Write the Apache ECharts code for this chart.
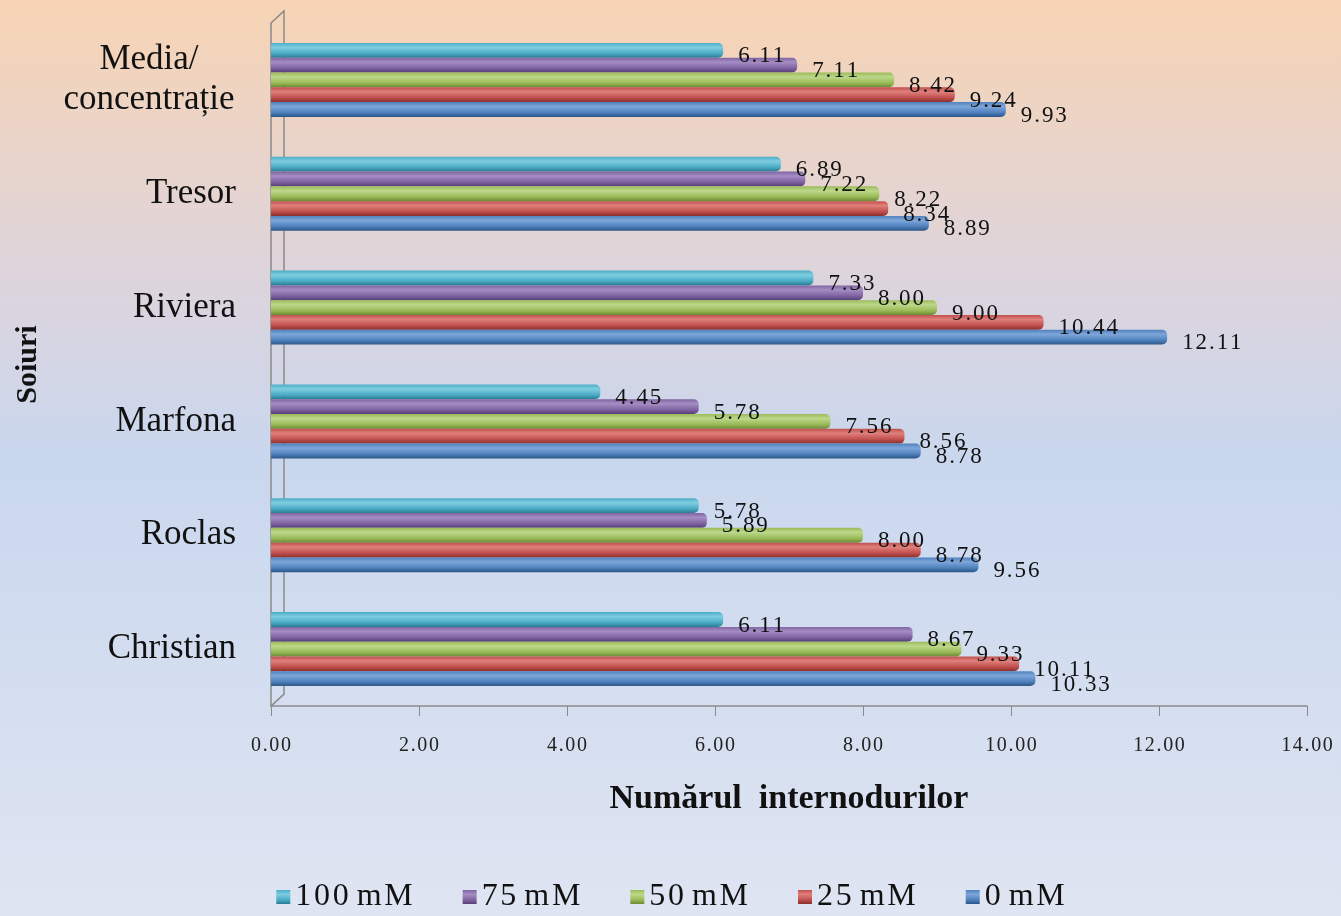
<!DOCTYPE html>
<html>
<head>
<meta charset="utf-8">
<script src="https://cdn.jsdelivr.net/npm/echarts@6/dist/echarts.min.js"></script>
<style>
html, body { margin: 0; padding: 0; }
#echarts { width: 1341px; height: 916px; }
</style>
</head>
<body>
<div id="echarts"></div>
<script>
var soiuri = ['Christian', 'Roclas', 'Marfona', 'Riviera', 'Tresor', 'Media/\nconcentrație'];
var xTicks = [0, 2, 4, 6, 8, 10, 12, 14];

var v0 = [10.33, 9.56, 8.78, 12.11, 8.89, 9.93];
var v25 = [10.11, 8.78, 8.56, 10.44, 8.34, 9.24];
var v50 = [9.33, 8.00, 7.56, 9.00, 8.22, 8.42];
var v75 = [8.67, 5.89, 5.78, 8.00, 7.22, 7.11];
var v100 = [6.11, 5.78, 4.45, 7.33, 6.89, 6.11];

var serif = '"Liberation Serif", "DejaVu Serif", serif';

// spread characters a bit like the original Office rendering
function spaced(s) {
    return s.split('').join('\u200A');
}

function tube(light, mid, dark) {
    return new echarts.graphic.LinearGradient(0, 0, 0, 1, [
        { offset: 0, color: mid },
        { offset: 0.3, color: light },
        { offset: 0.7, color: mid },
        { offset: 1, color: dark }
    ]);
}

function serie(name, data, light, mid, dark) {
    return {
        name: name,
        type: 'bar',
        data: data,
        barGap: '0%',
        barCategoryGap: '35%',
        itemStyle: { color: tube(light, mid, dark), borderRadius: [0, 5, 5, 0] },
        label: {
            show: true,
            position: 'right',
            offset: [0, 6],
            distance: 15,
            color: '#111',
            fontFamily: serif,
            fontSize: 23,
            formatter: function (p) { return spaced(p.value.toFixed(2)); }
        }
    };
}

var myChart = echarts.init(document.getElementById('echarts'));
var option = {
    backgroundColor: new echarts.graphic.LinearGradient(0, 0, 0, 1, [
        { offset: 0, color: '#f8d4b4' },
        { offset: 0.3, color: '#ddd4dc' },
        { offset: 0.5, color: '#c9d7ee' },
        { offset: 1, color: '#dfe5f2' }
    ]),
    textStyle: { fontFamily: serif },
    legend: {
        data: ['100 mM', '75 mM', '50 mM', '25 mM', '0 mM'],
        bottom: -2,
        left: 'center',
        itemWidth: 14,
        itemHeight: 14,
        itemGap: 50,
        icon: 'rect',
        formatter: function (n) { return spaced(n).replace('\u200A \u200A', ' '); },
        textStyle: { fontFamily: serif, fontSize: 32, color: '#111' }
    },
    grid: {
        left: 271,
        right: 34,
        top: 23,
        bottom: 210
    },
    xAxis: {
        type: 'value',
        min: 0,
        max: 14,
        interval: 2,
        name: 'Numărul  internodurilor',
        nameLocation: 'middle',
        nameGap: 76,
        nameTextStyle: { fontFamily: serif, fontSize: 34, fontWeight: 'bold', color: '#111' },
        axisLine: { show: true, lineStyle: { color: '#8a8a8a', width: 1.5 } },
        axisTick: { show: true, length: 10, lineStyle: { color: '#8a8a8a' } },
        splitLine: { show: false },
        axisLabel: {
            margin: 30,
            fontFamily: serif,
            fontSize: 20,
            color: '#222',
            formatter: function (v) { return xTicks.indexOf(v) >= 0 ? spaced(v.toFixed(2)) : ''; }
        }
    },
    yAxis: {
        type: 'category',
        data: soiuri,
        name: 'Soiuri',
        nameLocation: 'middle',
        nameGap: 228,
        nameRotate: 90,
        nameTextStyle: { fontFamily: serif, fontSize: 30, fontWeight: 'bold', color: '#111' },
        axisLine: { show: true, lineStyle: { color: '#8a8a8a', width: 1.5 } },
        axisTick: { show: false },
        axisLabel: {
            margin: 35,
            fontFamily: serif,
            fontSize: 35,
            lineHeight: 40,
            color: '#111',
            align: 'right',
            formatter: function (v) {
                if (v.indexOf('\n') < 0) return v;
                return v.split('\n').map(function (s) { return '{c|' + s + '}'; }).join('\n');
            },
            rich: {
                c: { width: 174, align: 'center', fontFamily: serif, fontSize: 35, lineHeight: 40, color: '#111' }
            }
        }
    },
    series: [
        serie('100 mM', v100, '#7fcde0', '#4bacc6', '#2a7c92'),
        serie('75 mM', v75, '#a58dc4', '#8064a2', '#553f75'),
        serie('50 mM', v50, '#bcd88a', '#9bbb59', '#6a8a34'),
        serie('25 mM', v25, '#e0807c', '#c0504d', '#8a2f2c'),
        serie('0 mM', v0, '#7ea6da', '#4f81bd', '#2c5686')
    ]
};
myChart.setOption(option);

// back wall of the 3D frame, placed from the grid edges
var gx = myChart.convertToPixel({ xAxisIndex: 0 }, 0);
var gb = myChart.convertToPixel({ yAxisIndex: 0 }, 0) + 57;
var gt = 23;
var d = 13;
myChart.setOption({
    graphic: [{
        type: 'polyline',
        z: 1,
        silent: true,
        shape: { points: [[gx, gt], [gx + d, gt - 12], [gx + d, gb - 12], [gx, gb]] },
        style: { stroke: '#8a8a8a', lineWidth: 1.5, fill: null }
    }]
});
</script>
</body>
</html>
